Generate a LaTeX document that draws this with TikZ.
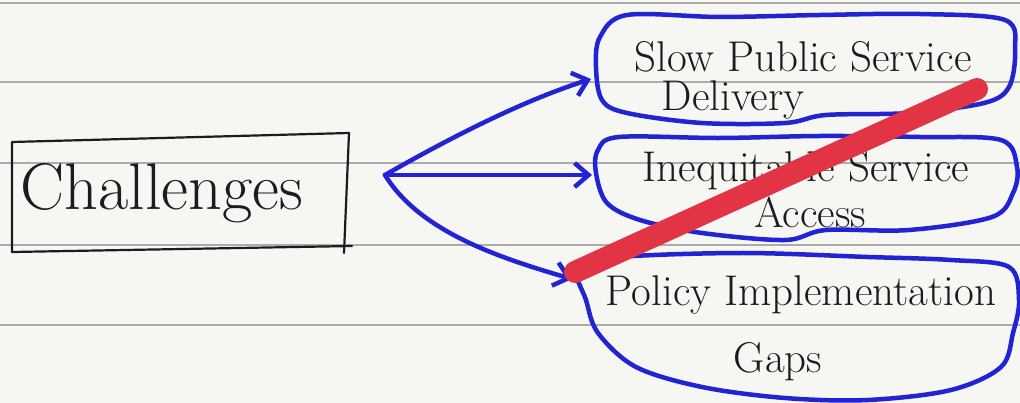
\documentclass[tikz,border=0pt]{standalone}
\usetikzlibrary{arrows.meta}
\definecolor{paper}{RGB}{246,246,243}
\definecolor{rule}{RGB}{172,172,170}
\definecolor{blueink}{RGB}{34,36,212}
\definecolor{pen}{RGB}{28,28,30}
\definecolor{strike}{RGB}{226,52,68}
\tikzset{
  ruled/.style={rule, line width=1.4pt},
  blob/.style={blueink, line width=4.5pt, line join=round},
  branch/.style={blueink, line width=4.5pt, line cap=round,
    -{Straight Barb[length=14pt,width=24pt,line width=4.5pt]}},
  hand/.style={pen, inner sep=0pt, font=\fontsize{43}{43}\selectfont},
  title/.style={pen, inner sep=0pt, font=\fontsize{66}{66}\selectfont},
}
\begin{document}
\begin{tikzpicture}[x=1pt,y=-1pt]
\useasboundingbox (0,0) rectangle (1020,403);
\fill[paper] (0,0) rectangle (1020,403);

% notebook rules
\foreach \yy in {3,82,163,245,325}
  \draw[ruled] (0,\yy) -- (1020,\yy);

% title box
\node[title] (chal) at (162,193) {Challenges};
\draw[pen, line width=2.2pt, line join=round, line cap=round]
  (12,252) -- (12,142) -- (349,133) -- (344,253);
\draw[pen, line width=2.2pt, line cap=round] (352,246) -- (12,252);

% outlines of the three bubbles
\draw[blob] plot[smooth cycle, tension=0.55] coordinates {
  (600,37) (627,15) (720,17) (820,15) (920,14) (1005,20) (1015,50)
  (1009,87) (984,103) (909,113) (826,115) (785,123) (702,123)
  (627,113) (602,100) (596,67)};
\draw[blob] plot[smooth cycle, tension=0.55] coordinates {
  (598,150) (619,137) (720,138) (820,136) (920,137) (1001,140)
  (1017,167) (1013,193) (992,217) (909,230) (826,230) (785,240)
  (702,233) (640,220) (607,203) (596,173)};
\draw[blob] plot[smooth cycle, tension=0.55] coordinates {
  (586,300) (577,267) (619,257) (743,253) (868,257) (951,260)
  (1009,267) (1019,300) (1013,333) (1001,367) (951,390) (868,400)
  (785,398) (702,387) (636,367) (598,333)};

% bubble texts
\node[hand] (slow)  at (803,57)  {Slow Public Service};
\node[hand] (deliv) at (733,100) {Delivery};
\node[hand] (ineq)  at (806,171) {Inequitable Service};
\node[hand] (acc)   at (810,212) {Access};
\node[hand] (pol)   at (801,295) {Policy Implementation};
\node[hand] (gaps)  at (778,362) {Gaps};

% branching arrows
\coordinate (fork) at (385,175);
\coordinate (in1) at (591,79);
\coordinate (in2) at (592,175);
\coordinate (in3) at (572,279);
\draw[branch] (fork) .. controls (455,135) and (525,100) .. (in1);
\draw[branch] (fork) -- (in2);
\draw[branch] (fork) .. controls (420,232) and (500,258) .. (in3);

% red strike-through
\coordinate (s1) at (575,272);
\coordinate (s2) at (977,89);
\draw[strike, line width=22pt, line cap=round] (s1) -- (s2);
\end{tikzpicture}
\end{document}
